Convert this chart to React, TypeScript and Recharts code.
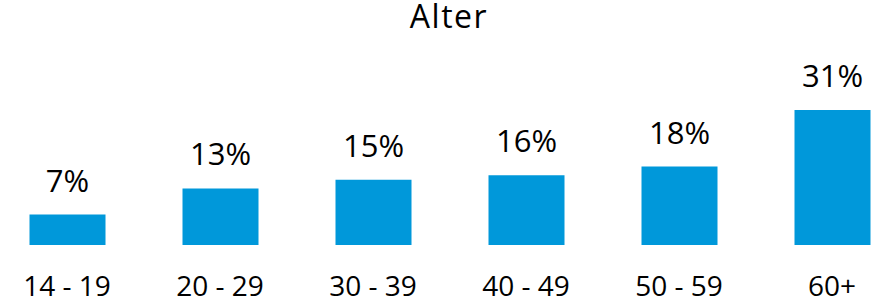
import { BarChart, Bar, XAxis, YAxis, LabelList } from "recharts"

const ageGroups = ["14 - 19", "20 - 29", "30 - 39", "40 - 49", "50 - 59", "60+"]
const shares = [7, 13, 15, 16, 18, 31]

const data = ageGroups.map((group, i) => ({ group, share: shares[i] }))

const font = "'Open Sans', sans-serif"

const App = () => {
  return (
    <div style={{ position: "absolute", top: 0, left: 0, width: 876, height: 302, background: "#fff", fontFamily: font }}>
      <div style={{ position: "absolute", top: 0, left: 111, width: 676, textAlign: "center", fontSize: 32, lineHeight: "32px", letterSpacing: 1.5, color: "#000" }}>
        Alter
      </div>
      <BarChart width={876} height={302} data={data} margin={{ top: 110, right: -32.5, bottom: 0, left: -9.5 }} barCategoryGap={0}>
        <XAxis
          dataKey="group"
          axisLine={false}
          tickLine={false}
          height={57}
          tickMargin={25}
          interval={0}
          tick={{ fontSize: 28, fill: "#000", fontFamily: font }}
        />
        <YAxis hide domain={[0, 31]} />
        <Bar dataKey="share" fill="#0098DA" barSize={76} isAnimationActive={false}>
          <LabelList
            dataKey="share"
            position="top"
            offset={23}
            formatter={(v: any) => `${v}%`}
            style={{ fontSize: 31, fill: "#000", fontFamily: font }}
          />
        </Bar>
      </BarChart>
    </div>
  )
}

export default App
